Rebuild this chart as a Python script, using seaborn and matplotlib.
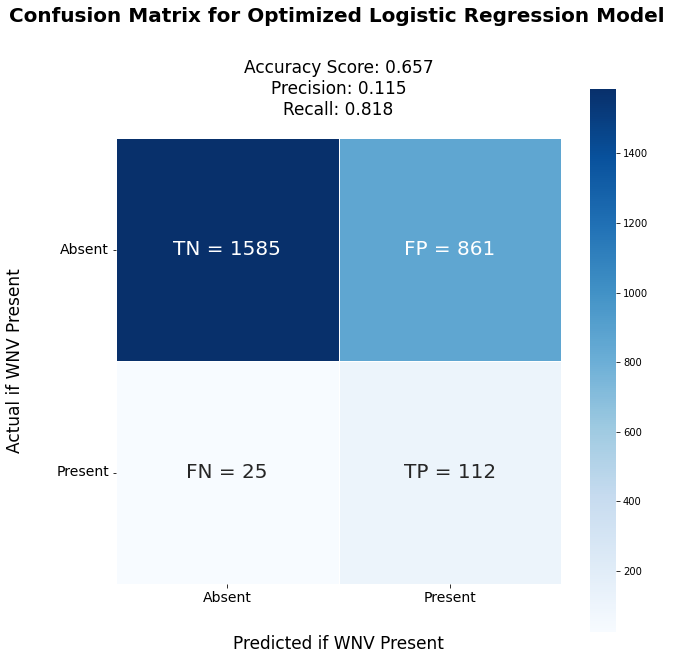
import numpy as np
import matplotlib
matplotlib.use("Agg")
import matplotlib.pyplot as plt
import seaborn as sns

row_labels = ["Absent", "Present"]
col_labels = ["Absent", "Present"]
counts = [[1585, 861], [25, 112]]
cell_names = [["TN", "FP"], ["FN", "TP"]]
accuracy = 0.657
precision = 0.115
recall = 0.818

cm = np.array(counts)
annot = np.array([[f"{cell_names[i][j]} = {counts[i][j]}" for j in range(2)] for i in range(2)])

fig = plt.figure(figsize=(673/72, 660/72), dpi=72)
ax = fig.add_axes([116/673, 1-584/660, 445/673, 446/660])
cax = fig.add_axes([590/673, 1-632/660, 26/673, 543/660])

sns.heatmap(cm, annot=annot, fmt="", cmap="Blues", linewidths=0.5, linecolor="white",
            xticklabels=col_labels, yticklabels=row_labels, ax=ax, cbar_ax=cax,
            annot_kws={"fontsize": 20})
ax.tick_params(axis="both", labelsize=14)
ax.set_yticklabels(row_labels, rotation=0)
ax.set_xlabel("Predicted if WNV Present", fontsize=17, labelpad=30)
ax.set_ylabel("Actual if WNV Present", fontsize=17, labelpad=32)
ax.set_title(f"Accuracy Score: {accuracy}\nPrecision: {precision}\nRecall: {recall}",
             fontsize=17, pad=23)
cax.tick_params(labelsize=10)
fig.suptitle("Confusion Matrix for Optimized Logistic Regression Model",
             fontsize=20, fontweight="bold", x=0.5, y=0.99)
fig.savefig("out.png", dpi=72)
